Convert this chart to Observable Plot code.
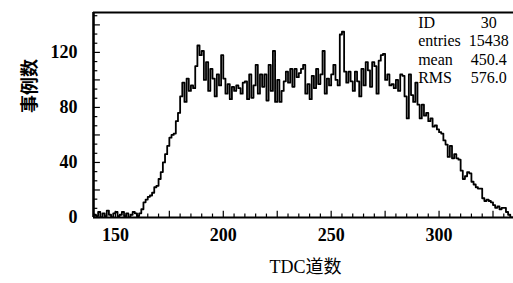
<!DOCTYPE html>
<html><head><meta charset="utf-8">
<script src="https://cdn.jsdelivr.net/npm/d3@7"></script>
<script src="https://cdn.jsdelivr.net/npm/@observablehq/plot@0.6"></script>
<style>body{margin:0;background:#fff} svg{display:block}</style>
</head><body><div id="chart"></div>
<script>
const binStart = 140;
const binWidth = 1;
const counts = [
  2,1,4,0,3,1,5,2,0,3,4,1,2,4,1,3,0,2,4,3,1,
  3,6,11,13,15,16,18,22,23,28,
  33,40,46,52,58,60,61,70,76,88,
  98,84,101,92,96,94,110,125,118,121,
  100,113,92,108,101,88,104,96,118,101,
  90,97,86,95,92,96,94,90,98,99,
  86,104,87,96,111,90,104,95,104,85,
  111,92,121,84,100,84,92,99,106,98,
  108,95,108,102,105,108,111,90,97,86,
  103,94,108,97,104,121,90,101,96,104,
  111,100,96,133,135,106,98,106,99,92,
  106,99,88,108,96,113,107,95,113,110,
  90,114,118,119,100,104,96,97,94,100,
  92,104,103,88,72,104,89,84,98,82,
  72,82,74,76,70,72,66,67,64,62,
  61,56,53,44,52,43,46,43,42,34,
  28,30,33,32,26,24,22,21,21,14,
  12,13,12,11,9,7,8,6,7,7,
  4,2,0
];
const xTickLabels = [150, 200, 250, 300];
const yTickLabels = [0, 40, 80, 120];
const statNames = ["ID", "entries", "mean", "RMS"];
const statValues = ["30", "15438", "450.4", "576.0"];
const xLabel = "TDC道数";
const yLabel = "事例数";

const xMin = 139.85, xMax = 334.5, yMax = 149;
const font = "'Liberation Serif', 'Noto Sans CJK SC', serif";

const pts = counts.map((c, i) => ({x: binStart + i * binWidth, y: c}));
pts.push({x: binStart + counts.length * binWidth, y: counts[counts.length - 1]});

const xMinor = d3.range(140, 335, 5);
const yMinor = d3.range(0, 149, 20 / 3);

const chart = Plot.plot({
  width: 513,
  height: 283,
  marginLeft: 93,
  marginRight: 0,
  marginTop: 12,
  marginBottom: 66,
  style: {fontFamily: font, background: "#fff", color: "#000"},
  x: {domain: [xMin, xMax]},
  y: {domain: [0, yMax]},
  marks: [
    Plot.axisX(xTickLabels, {tickSize: 0, tickPadding: 11, fontSize: 18, fontWeight: "bold", label: null, fill: "#000"}),
    Plot.axisY(yTickLabels, {tickSize: 0, tickPadding: 16, fontSize: 18, fontWeight: "bold", label: null, fill: "#000"}),
    Plot.ruleX(xMinor, {y1: 0, y2: d => d % 25 === 0 ? 4.5 : 2.5, stroke: "#000", strokeWidth: 1.2}),
    Plot.ruleY(yMinor, {x1: xMin, x2: (d, i) => i % 3 === 0 ? xMin + 3.2 : xMin + 2, stroke: "#000", strokeWidth: 1.2}),
    Plot.line(pts, {x: "x", y: "y", curve: "step-after", stroke: "#000", strokeWidth: 1.8, clip: true}),
    Plot.ruleY([0], {stroke: "#000", strokeWidth: 2.2}),
    Plot.ruleY([yMax], {stroke: "#000", strokeWidth: 2.2}),
    Plot.ruleX([xMin], {stroke: "#000", strokeWidth: 2.6}),
    Plot.text(statNames, {x: 290.3, y: (d, i) => 141.8 - i * 13.45, text: d => d, textAnchor: "start", fontSize: 16, fill: "#000"}),
    Plot.text(statValues, {x: 323, y: (d, i) => 141.8 - i * 13.45, text: d => d, textAnchor: "middle", fontSize: 16, fill: "#000"}),
    Plot.text([xLabel], {frameAnchor: "bottom", dx: 2, dy: 55, text: d => d, fontSize: 18, fill: "#000"}),
    Plot.text([yLabel], {frameAnchor: "left", dx: -63, dy: -2, rotate: -90, text: d => d, fontSize: 18, fontWeight: "bold", fill: "#000"})
  ]
});
document.getElementById("chart").append(chart);
</script>
</body></html>
